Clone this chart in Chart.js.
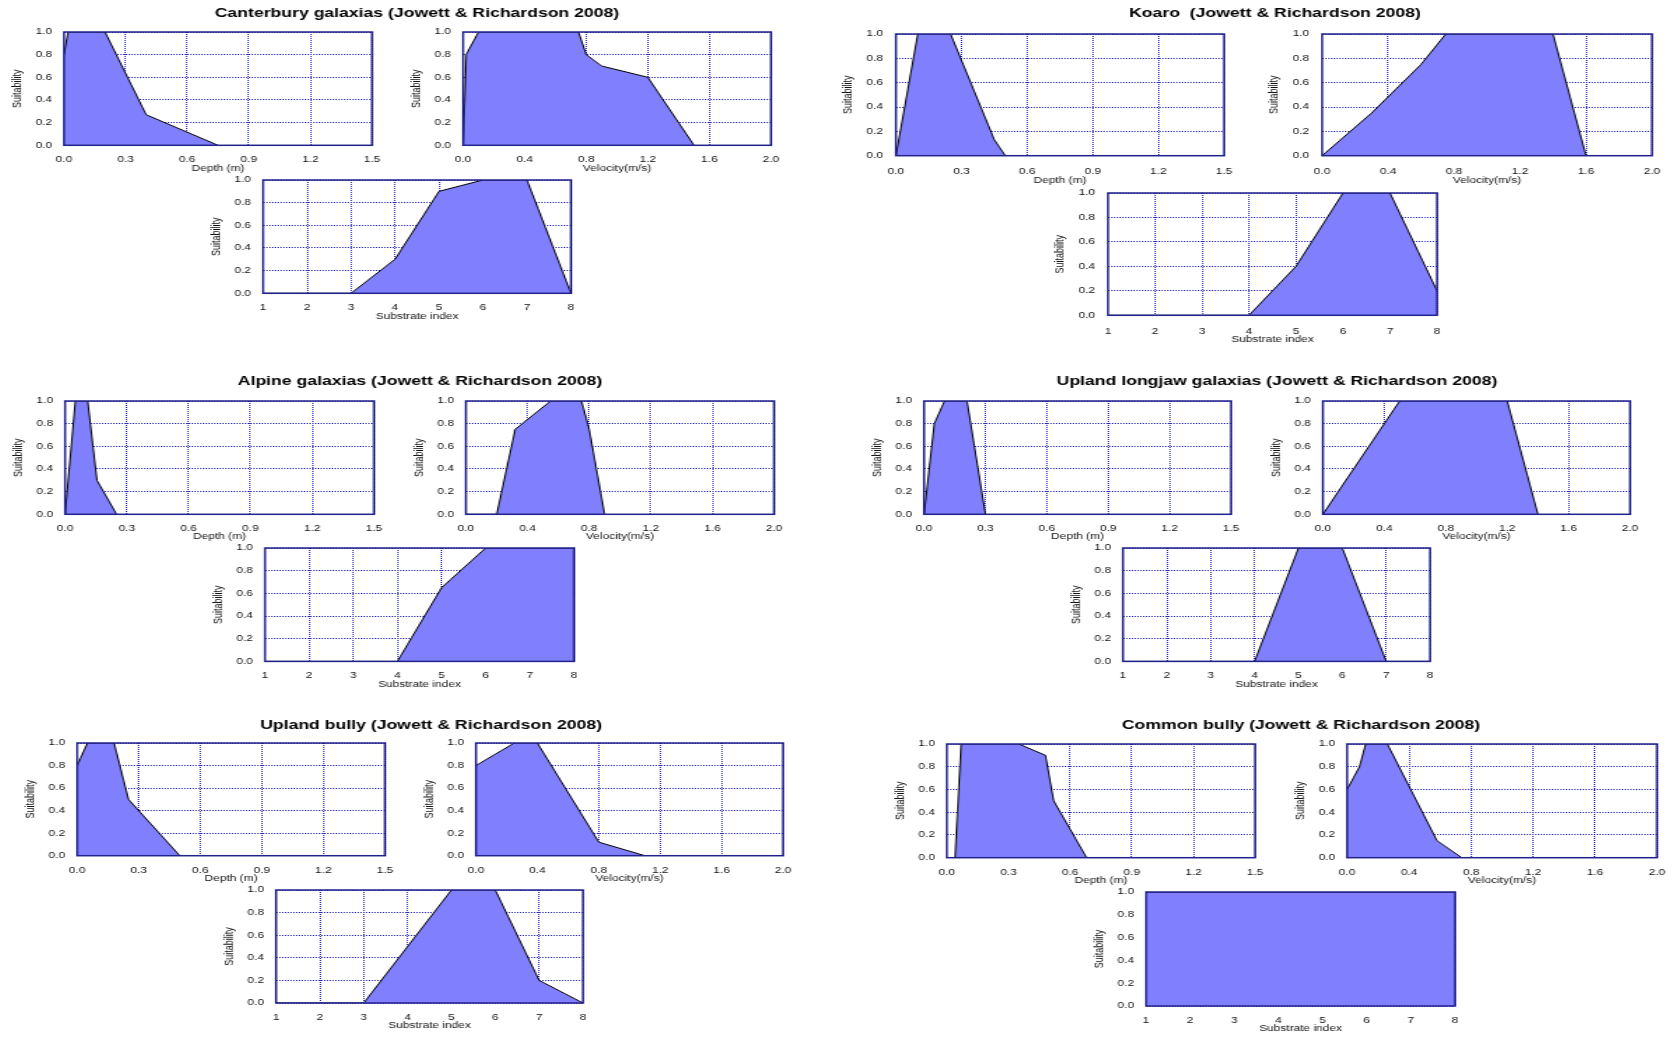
<!DOCTYPE html>
<html><head><meta charset="utf-8">
<script src="https://cdn.jsdelivr.net/npm/chart.js@4.4.0/dist/chart.umd.min.js"></script>
<style>
html,body{margin:0;padding:0;background:#fff;}
body{width:1678px;height:1038px;position:relative;overflow:hidden;}
canvas{position:absolute;}
</style></head><body>
<script>
// ---- tick labels ----
const depthTicks = [0, 0.3, 0.6, 0.9, 1.2, 1.5];
const velocityTicks = [0, 0.4, 0.8, 1.2, 1.6, 2.0];
const substrateTicks = [1, 2, 3, 4, 5, 6, 7, 8];
const suitabilityTicks = [0, 0.2, 0.4, 0.6, 0.8, 1.0];
const substrateIndex = [1, 2, 3, 4, 5, 6, 7, 8];

// ---- Canterbury galaxias ----
const canterburyDepthX = [0, 0.02, 0.2, 0.4, 0.75];
const canterburyDepthY = [0.8, 1.0, 1.0, 0.27, 0];
const canterburyVelX = [0, 0.02, 0.1, 0.75, 0.8, 0.9, 1.2, 1.5];
const canterburyVelY = [0, 0.8, 1.0, 1.0, 0.8, 0.7, 0.6, 0];
const canterburySubY = [0, 0, 0, 0.3, 0.9, 1.0, 1.0, 0];

// ---- Koaro ----
const koaroDepthX = [0, 0.1, 0.25, 0.45, 0.5];
const koaroDepthY = [0, 1.0, 1.0, 0.13, 0];
const koaroVelX = [0, 0.3, 0.6, 0.75, 1.4, 1.6];
const koaroVelY = [0, 0.35, 0.75, 1.0, 1.0, 0];
const koaroSubY = [0, 0, 0, 0, 0.4, 1.0, 1.0, 0.2];

// ---- Alpine galaxias ----
const alpineDepthX = [0, 0.05, 0.11, 0.155, 0.25];
const alpineDepthY = [0, 1.0, 1.0, 0.3, 0];
const alpineVelX = [0, 0.2, 0.32, 0.55, 0.75, 0.8, 0.9];
const alpineVelY = [0, 0, 0.75, 1.0, 1.0, 0.75, 0];
const alpineSubY = [0, 0, 0, 0, 0.65, 1.0, 1.0, 1.0];

// ---- Upland longjaw galaxias ----
const longjawDepthX = [0, 0.05, 0.1, 0.21, 0.3];
const longjawDepthY = [0, 0.8, 1.0, 1.0, 0];
const longjawVelX = [0, 0.3, 0.5, 1.2, 1.4];
const longjawVelY = [0, 0.6, 1.0, 1.0, 0];
const longjawSubY = [0, 0, 0, 0, 1.0, 1.0, 0, 0];

// ---- Upland bully ----
const uplandBullyDepthX = [0, 0.05, 0.18, 0.25, 0.5];
const uplandBullyDepthY = [0.8, 1.0, 1.0, 0.5, 0];
const uplandBullyVelX = [0, 0.25, 0.4, 0.8, 1.1];
const uplandBullyVelY = [0.8, 1.0, 1.0, 0.12, 0];
const uplandBullySubY = [0, 0, 0, 0.5, 1.0, 1.0, 0.2, 0];

// ---- Common bully ----
const commonBullyDepthX = [0.04, 0.07, 0.35, 0.48, 0.52, 0.68];
const commonBullyDepthY = [0, 1.0, 1.0, 0.9, 0.5, 0];
const commonBullyVelX = [0, 0.08, 0.12, 0.26, 0.58, 0.74];
const commonBullyVelY = [0.6, 0.8, 1.0, 1.0, 0.15, 0];
const commonBullySubY = [1, 1, 1, 1, 1, 1, 1, 1];

const titleTexts = [
  'Canterbury galaxias (Jowett & Richardson 2008)',
  'Koaro  (Jowett & Richardson 2008)',
  'Alpine galaxias (Jowett & Richardson 2008)',
  'Upland longjaw galaxias (Jowett & Richardson 2008)',
  'Upland bully (Jowett & Richardson 2008)',
  'Common bully (Jowett & Richardson 2008)'
];

const seriesSets = [
  [canterburyDepthX, canterburyDepthY, canterburyVelX, canterburyVelY, canterburySubY],
  [koaroDepthX, koaroDepthY, koaroVelX, koaroVelY, koaroSubY],
  [alpineDepthX, alpineDepthY, alpineVelX, alpineVelY, alpineSubY],
  [longjawDepthX, longjawDepthY, longjawVelX, longjawVelY, longjawSubY],
  [uplandBullyDepthX, uplandBullyDepthY, uplandBullyVelX, uplandBullyVelY, uplandBullySubY],
  [commonBullyDepthX, commonBullyDepthY, commonBullyVelX, commonBullyVelY, commonBullySubY]
];

// ---- layout (page pixel boxes of plot areas) ----
const layoutGroups = [
  {tx: 417.4, ty: 13.8, depth: {l: 64.3, r: 372.3, t: 32, b: 145.3}, vel: {l: 463.3, r: 771, t: 32, b: 145.3}, sub: {l: 263.3, r: 571, t: 180, b: 293.3}, tickC: 14.7, titleC: 23.4, yTitle: 46, yPad: 12},
  {tx: 1274.6, ty: 14.2, depth: {l: 895.7, r: 1224.3, t: 34.3, b: 156}, vel: {l: 1322.3, r: 1651.7, t: 34.3, b: 156}, sub: {l: 1108.3, r: 1437.3, t: 192.7, b: 315}, tickC: 16.3, titleC: 25, yTitle: 48, yPad: 13},
  {tx: 419.7, ty: 382.3, depth: {l: 65.1, r: 373.8, t: 400.7, b: 514}, vel: {l: 465.6, r: 774.4, t: 400.7, b: 514}, sub: {l: 264.6, r: 573.8, t: 548.3, b: 661.7}, tickC: 14.7, titleC: 23, yTitle: 47, yPad: 12},
  {tx: 1276.8, ty: 382.3, depth: {l: 924.2, r: 1230.9, t: 400.7, b: 514}, vel: {l: 1322.7, r: 1630.5, t: 400.7, b: 514}, sub: {l: 1122.9, r: 1430.2, t: 548.3, b: 661.7}, tickC: 14.7, titleC: 23, yTitle: 47, yPad: 12},
  {tx: 430.8, ty: 725.7, depth: {l: 77.4, r: 384.6, t: 743.3, b: 856}, vel: {l: 475.9, r: 783.1, t: 743.3, b: 856}, sub: {l: 276.4, r: 583.1, t: 890.3, b: 1003.3}, tickC: 15, titleC: 23, yTitle: 47, yPad: 12},
  {tx: 1301, ty: 725.7, depth: {l: 946.6, r: 1255.4, t: 744, b: 857.7}, vel: {l: 1347.3, r: 1656.7, t: 744, b: 857.7}, sub: {l: 1146.4, r: 1455.2, t: 892.3, b: 1006.3}, tickC: 15, titleC: 23, yTitle: 47, yPad: 12}
];

const STRETCH = 1.4;
const FILL = '#8080ff';
const GRID = '#2a2ab6';
const FRAME = '#22228c';
const TXT = '#111111';
Chart.defaults.font.family = '"Liberation Sans", Arial, Helvetica, sans-serif';
Chart.defaults.color = TXT;

const framePlugin = {
  id: 'frame',
  afterDatasetsDraw(chart) {
    const {ctx, chartArea: a} = chart;
    ctx.save();
    ctx.strokeStyle = FRAME;
    ctx.lineWidth = 1.5;
    ctx.strokeRect(a.left, a.top, a.right - a.left, a.bottom - a.top);
    ctx.restore();
  }
};

function makeCanvas(left, top, W, H) {
  const Wi = Math.round(W / STRETCH);
  const c = document.createElement('canvas');
  c.width = Wi; c.height = H;
  c.style.left = left + 'px';
  c.style.top = top + 'px';
  c.style.width = W + 'px';
  c.style.height = H + 'px';
  document.body.appendChild(c);
  return {c, sx: W / Wi};
}

function makePanel(box, g, xTicks, xTitle, xs, ys, decimals) {
  const L = 64, R = 32, T = 22;
  const B = g.titleC + 5.1;
  const plotH = box.b - box.t;
  const W = box.r - box.l + L + R;
  const H = Math.round(plotH + T + B);
  const {c, sx} = makeCanvas(box.l - L, box.t - T, W, H);
  const xAxisH = H - T - plotH;
  const pts = xs.map((x, i) => ({x: x, y: ys[i]}));
  new Chart(c, {
    type: 'line',
    data: {datasets: [{
      data: pts, borderColor: '#000', borderWidth: 1, backgroundColor: FILL,
      fill: 'origin', pointRadius: 0, tension: 0
    }]},
    options: {
      responsive: false, animation: false, events: [],
      layout: {padding: {left: 0, top: T, right: R / sx, bottom: 0}},
      plugins: {legend: {display: false}, tooltip: {enabled: false}},
      scales: {
        x: {
          type: 'linear', min: xTicks[0], max: xTicks[xTicks.length - 1],
          afterBuildTicks: s => { s.ticks = xTicks.map(v => ({value: v})); },
          afterFit: s => { s.height = xAxisH; },
          grid: {color: GRID, lineWidth: 1, drawTicks: false},
          border: {display: false, dash: [1, 1]},
          ticks: {padding: g.tickC - 5.1, font: {size: 8.5}, color: TXT, maxRotation: 0, autoSkip: false,
                  callback: v => Number(v).toFixed(decimals)},
          title: {display: true, text: xTitle, font: {size: 8.5}, color: TXT, padding: {top: 0, bottom: 0}}
        },
        y: {
          type: 'linear', min: 0, max: 1,
          afterBuildTicks: s => { s.ticks = suitabilityTicks.map(v => ({value: v})); },
          afterFit: s => { s.width = L / sx; },
          grid: {color: GRID, lineWidth: 1, drawTicks: false},
          border: {display: false, dash: [1, 1]},
          ticks: {padding: g.yPad / sx, font: {size: 8.5}, color: TXT, callback: v => Number(v).toFixed(1)},
          title: {display: true, text: 'Suitability', font: {size: 9}, color: TXT,
                  padding: {top: (L - g.yTitle) / sx - 5.4, bottom: 0}}
        }
      }
    },
    plugins: [framePlugin]
  });
}

function makeTitle(cx, cy, text) {
  const W = 760, H = 30;
  const {c} = makeCanvas(cx - W / 2, cy - H / 2, W, H);
  const size = 12.6;
  new Chart(c, {
    type: 'line',
    data: {datasets: []},
    options: {
      responsive: false, animation: false, events: [],
      layout: {padding: 0},
      scales: {x: {display: false}, y: {display: false}},
      plugins: {
        legend: {display: false}, tooltip: {enabled: false},
        title: {display: true, text: text, color: '#000',
                font: {size: size, weight: 'bold'},
                padding: {top: H / 2 - size * 1.2 / 2, bottom: 0}}
      }
    }
  });
}

layoutGroups.forEach((g, i) => {
  const s = seriesSets[i];
  makeTitle(g.tx, g.ty, titleTexts[i]);
  makePanel(g.depth, g, depthTicks, 'Depth (m)', s[0], s[1], 1);
  makePanel(g.vel, g, velocityTicks, 'Velocity(m/s)', s[2], s[3], 1);
  makePanel(g.sub, g, substrateTicks, 'Substrate index', substrateIndex, s[4], 0);
});
</script>
</body></html>
